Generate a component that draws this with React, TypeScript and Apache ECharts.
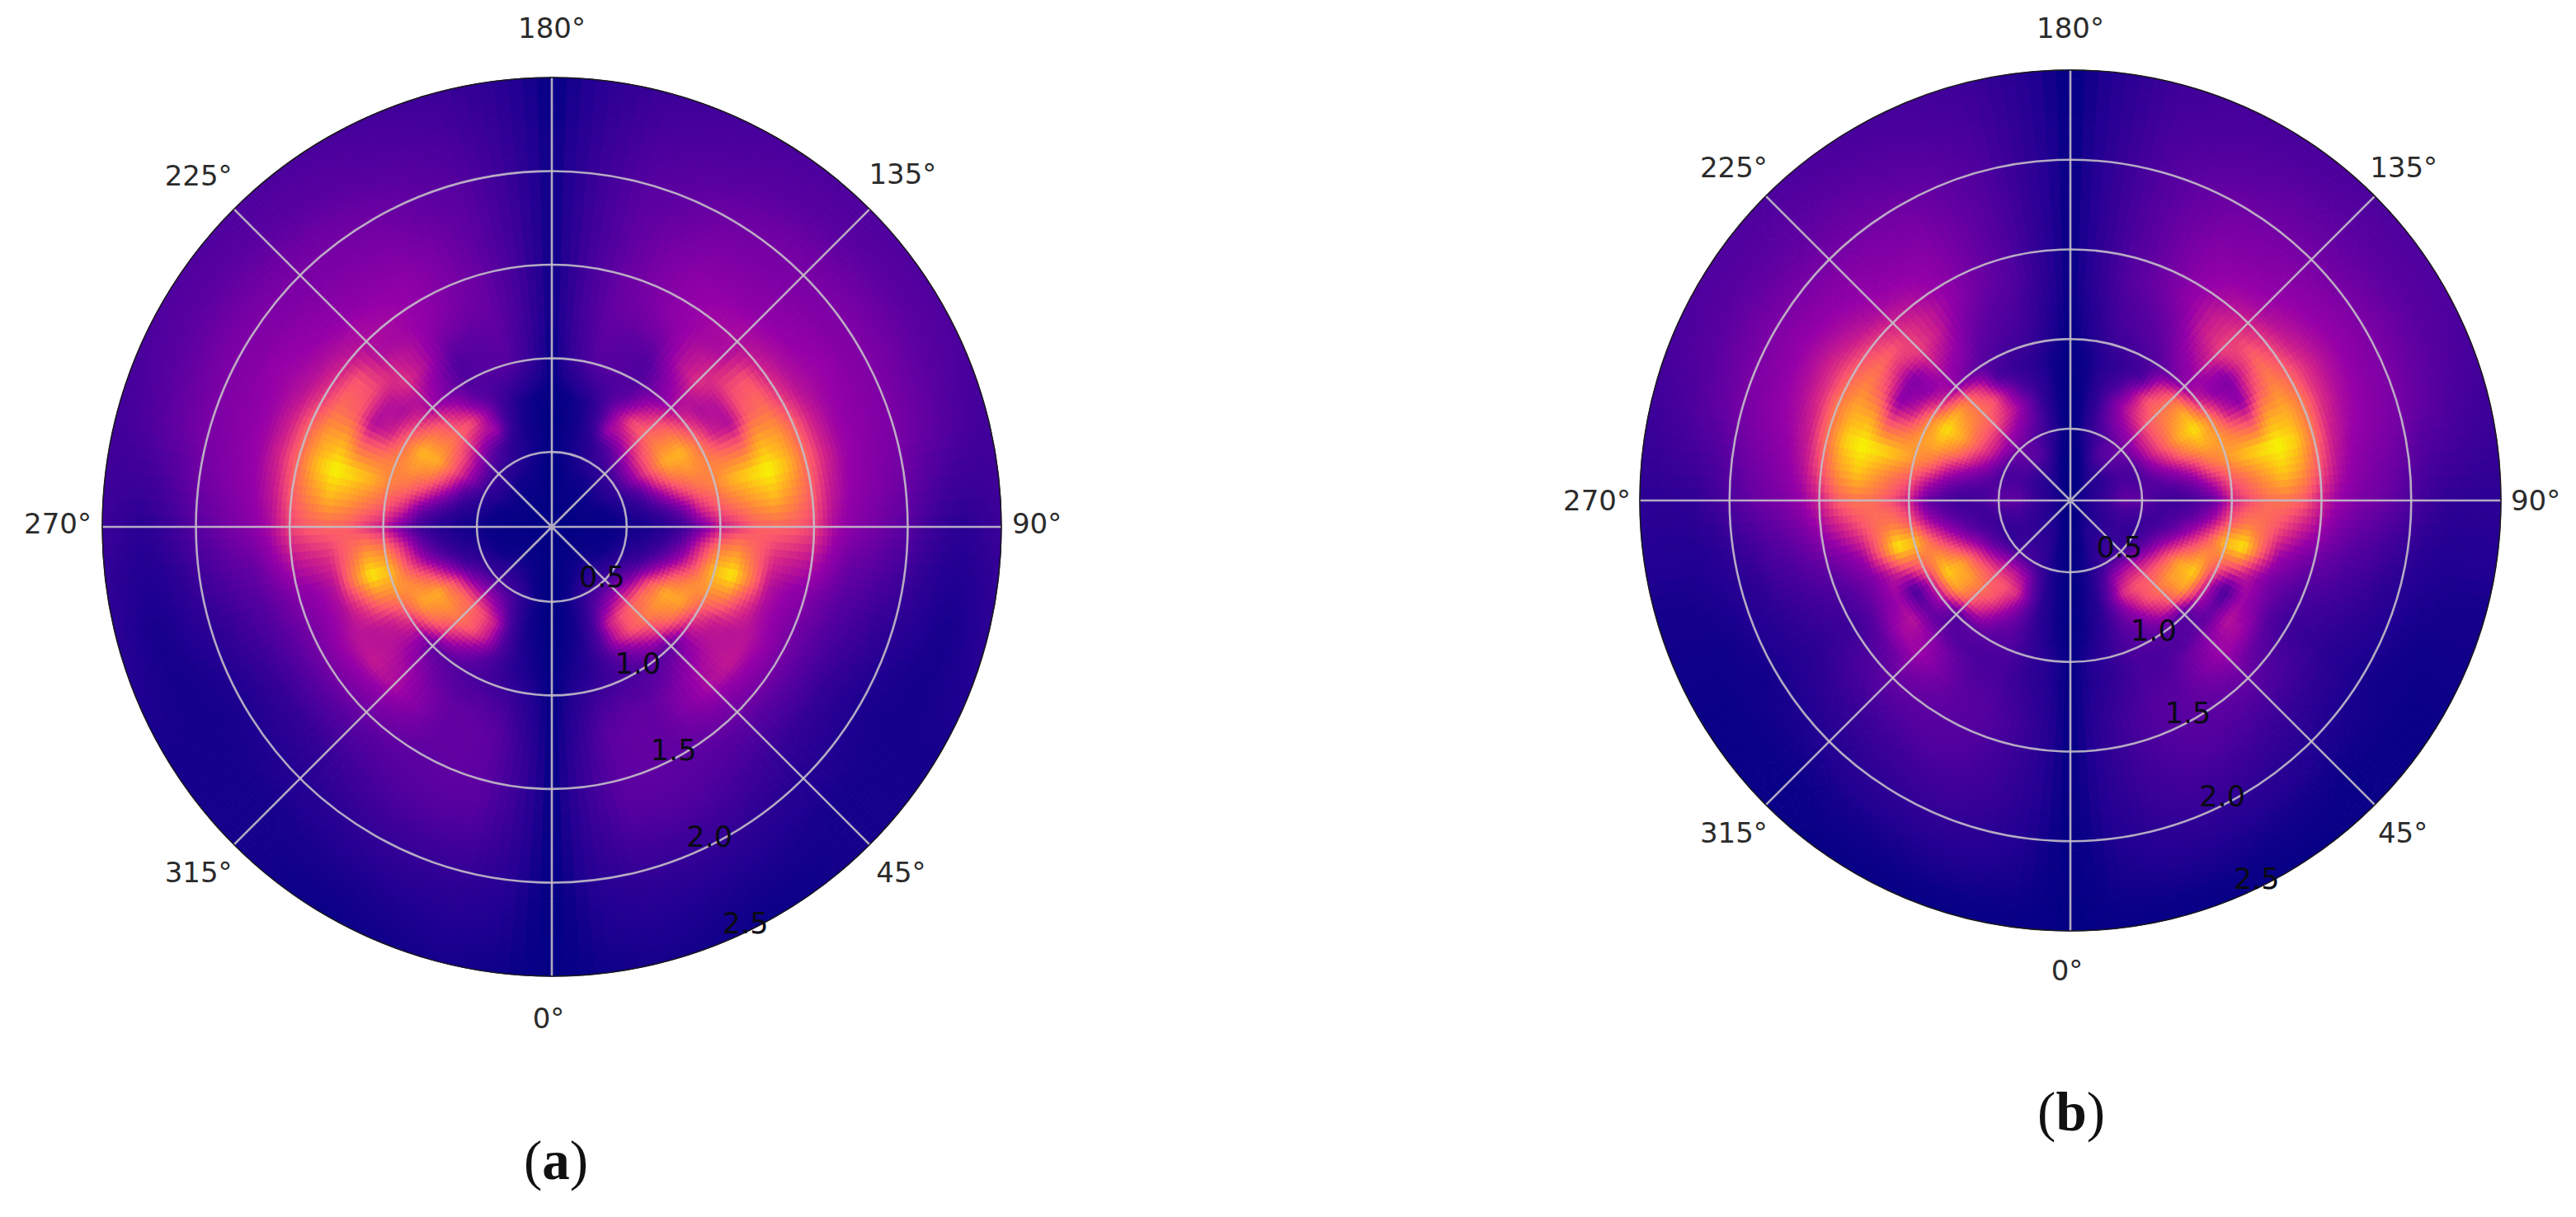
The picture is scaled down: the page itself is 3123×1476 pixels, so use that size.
import React, { useEffect, useRef } from "react";
import * as echarts from "echarts";

// Radial sample positions (value of the radius axis) and polar angles (deg) of the right half.
const radii = [0.1,0.2,0.3,0.4,0.5,0.6,0.7,0.8,0.9,1.0,1.1,1.2,1.3,1.4,1.5,1.6,1.7,1.8,1.9,2.0,2.1,2.2,2.3,2.4,2.5];
const thetas = [0,7.5,15,22.5,30,37.5,45,52.5,60,67.5,75,82.5,90,97.5,105,112.5,120,127.5,135,142.5,150,157.5,165,172.5,180];

// Intensity (0-100); rows = radii, columns = thetas. The figure is mirror-symmetric about the vertical.
const panelA = [
[0,0,0,1,1,1,1,1,1,1,1,1,1,1,1,1,1,1,1,1,1,1,1,0,0],
[0,1,1,1,1,1,1,1,1,1,1,1,1,1,1,1,1,1,1,1,1,1,1,1,0],
[0,1,1,2,2,2,2,2,2,2,2,2,2,2,2,2,2,2,2,2,2,2,2,1,0],
[0,1,2,4,6,7,7,6,4,3,3,2,2,2,3,4,6,6,6,4,4,4,3,1,0],
[0,2,5,10,15,18,18,15,12,9,6,5,4,5,7,10,14,15,14,12,10,7,5,3,0],
[0,2,5,14,28,38,42,38,30,18,11,7,5,8,15,25,38,38,32,24,16,9,5,3,0],
[0,3,6,20,48,60,66,68,62,42,24,14,8,17,34,52,62,60,52,44,42,16,5,3,0],
[0,4,8,22,46,62,70,78,84,64,42,28,16,30,54,72,84,74,66,60,40,18,7,3,1],
[1,5,9,18,28,40,54,70,82,76,62,52,32,52,68,78,86,72,58,44,26,20,16,8,2],
[1,8,14,18,20,24,26,46,62,78,88,72,48,64,74,74,68,56,42,32,22,24,24,14,2],
[1,10,19,23,24,28,36,44,50,72,98,78,56,72,86,70,50,44,46,36,22,24,26,16,2],
[1,12,24,27,28,34,42,46,46,56,72,66,64,80,94,68,44,46,54,44,28,26,27,17,3],
[1,14,26,28,28,36,44,48,46,44,46,54,66,86,100,84,64,60,50,44,34,30,28,18,3],
[1,15,26,28,28,32,36,38,40,38,40,50,64,76,88,80,68,62,44,42,38,32,28,18,3],
[1,16,26,27,26,28,30,32,32,32,36,46,58,64,68,66,56,50,44,42,38,33,28,18,3],
[1,15,25,26,25,24,24,25,26,27,30,38,44,48,52,50,46,44,42,40,38,33,27,18,3],
[1,14,23,24,23,21,19,19,19,21,24,29,37,40,42,42,42,40,38,37,36,32,26,17,3],
[1,13,20,21,20,17,14,13,13,16,20,26,33,36,38,38,40,38,36,35,34,30,26,17,3],
[1,11,17,17,16,14,11,10,9,12,15,22,29,33,35,36,36,35,34,33,32,28,25,16,3],
[1,10,14,14,13,10,8,7,6,8,12,17,25,30,33,34,35,34,33,32,30,27,24,16,3],
[1,8,11,11,10,8,7,6,5,6,9,12,18,25,30,31,32,32,31,30,28,25,22,15,3],
[1,7,9,8,7,6,5,5,5,5,6,8,13,20,27,28,29,29,28,27,25,23,21,14,3],
[1,6,7,6,5,5,5,5,5,5,5,7,10,17,23,25,26,26,25,24,23,21,19,13,2],
[1,5,6,5,4,4,5,5,5,6,7,9,13,16,20,22,24,24,23,23,22,20,18,12,2],
[1,4,5,4,3,4,5,5,5,7,10,13,16,17,18,20,22,22,22,21,20,18,16,11,2],
];

const panelB = [
[0,0,1,1,1,1,2,2,2,2,2,2,2,2,2,2,2,1,1,1,1,1,0,0,0],
[0,1,1,2,3,4,5,5,6,6,7,8,8,8,7,6,6,5,5,4,3,2,1,1,0],
[0,1,3,6,8,8,8,10,10,12,13,14,14,14,14,12,11,11,10,10,9,5,3,1,0],
[0,2,4,9,12,13,12,14,14,16,18,22,28,26,22,20,20,22,24,24,22,14,6,2,0],
[0,3,6,12,17,20,18,14,12,13,15,20,26,24,20,20,24,28,30,28,24,18,12,4,0],
[0,3,8,22,40,46,45,38,30,24,18,17,18,21,28,38,46,48,44,40,34,26,13,4,0],
[0,4,9,30,54,62,62,62,56,42,28,21,16,24,38,54,64,64,62,54,44,30,13,4,0],
[0,4,11,26,42,60,70,80,82,62,44,28,20,32,50,72,84,76,70,62,40,20,12,4,1],
[1,5,13,24,30,46,62,82,92,78,62,42,28,46,68,84,96,84,68,50,20,14,10,4,1],
[1,8,14,22,24,26,22,44,50,68,88,62,50,62,78,80,74,52,38,28,22,18,15,7,1],
[1,8,13,20,20,22,26,28,20,58,98,72,60,70,88,70,48,38,42,36,26,22,18,9,1],
[1,9,15,21,22,30,38,46,42,44,66,68,68,80,95,64,38,34,50,42,30,24,20,10,2],
[1,10,17,23,25,33,42,42,34,32,42,58,70,90,100,84,62,52,58,48,34,27,22,12,2],
[1,11,19,24,26,30,34,28,22,26,34,48,64,80,92,84,74,66,56,48,38,30,24,13,2],
[1,11,18,23,25,27,28,22,16,20,28,40,50,62,70,72,66,58,50,44,38,30,24,13,2],
[1,10,17,22,24,24,23,20,14,18,25,32,40,46,50,54,54,48,43,41,37,30,23,13,2],
[1,10,16,20,22,20,18,16,12,15,20,27,34,38,42,45,46,43,40,38,36,30,23,13,2],
[1,9,15,18,18,16,14,12,9,12,17,23,31,34,38,40,41,39,37,35,34,29,23,13,2],
[1,8,13,16,15,13,11,9,7,9,12,18,27,31,35,36,37,36,35,34,32,28,22,13,2],
[1,7,11,13,12,10,8,6,5,7,9,14,21,27,32,34,34,33,32,31,30,27,22,13,2],
[1,6,9,10,9,8,6,5,4,5,7,10,16,22,28,30,31,30,29,29,27,25,21,12,2],
[1,5,7,7,6,5,4,4,4,4,6,8,12,19,25,27,28,27,27,27,25,23,20,12,2],
[1,4,5,5,4,4,3,3,3,4,5,8,11,17,21,24,25,25,25,24,23,21,19,11,1],
[1,3,3,3,3,3,3,3,3,4,5,8,11,15,19,22,23,23,23,22,21,20,18,11,1],
[1,2,2,2,2,2,3,3,3,4,5,8,11,14,17,20,22,22,21,21,20,19,17,10,1],
];

const angleTicks = [0,45,90,135,180,225,270,315];
const angleLabels = ["0°","45°","90°","135°","180°","225°","270°","315°"];
const radialTicks = [0.5,1.0,1.5,2.0,2.5];
const radialRings = [0.5,1.0,1.5,2.0];
const radialLabelAngle = 22.5;

const colorStops: [number, number[]][] = [
  [0, [0,0,130]],
  [0.03, [10,0,135]],
  [0.07, [32,0,145]],
  [0.13, [50,0,150]],
  [0.25, [88,0,160]],
  [0.4, [150,0,168]],
  [0.5, [205,30,140]],
  [0.62, [250,85,110]],
  [0.75, [255,135,60]],
  [0.88, [255,190,25]],
  [1, [245,250,0]],
];

function colorOf(v: number) {
  const t = Math.max(0, Math.min(1, v / 100));
  for (let i = 1; i < colorStops.length; i++) {
    const [b, cb] = colorStops[i];
    if (t <= b) {
      const [a, ca] = colorStops[i - 1];
      const f = (t - a) / (b - a);
      return `rgb(${cb.map((c, k) => Math.round(ca[k] + (c - ca[k]) * f)).join(",")})`;
    }
  }
  return "rgb(245,250,0)";
}

const SUB = 4;

function heatCells(table: number[][]) {
  const out: number[][] = [];
  for (let i = 0; i < radii.length - 1; i++) {
    for (let j = 0; j < thetas.length - 1; j++) {
      const v = [table[i][j], table[i][j + 1], table[i + 1][j], table[i + 1][j + 1]];
      out.push([radii[i], thetas[j], radii[i + 1], thetas[j + 1], ...v]);
      out.push([radii[i], 360 - thetas[j], radii[i + 1], 360 - thetas[j + 1], ...v]);
    }
  }
  return out;
}

function renderCell(_: any, api: any) {
  const r0 = api.value(0), a0 = api.value(1), r1 = api.value(2), a1 = api.value(3);
  const v00 = api.value(4), v01 = api.value(5), v10 = api.value(6), v11 = api.value(7);
  const children: any[] = [];
  for (let p = 0; p < SUB; p++) {
    for (let q = 0; q < SUB; q++) {
      const u0 = p / SUB, u1 = (p + 1) / SUB, w0 = q / SUB, w1 = (q + 1) / SUB;
      const ra = r0 + (r1 - r0) * u0, rb = r0 + (r1 - r0) * u1;
      const ta = a0 + (a1 - a0) * w0, tb = a0 + (a1 - a0) * w1;
      const um = (u0 + u1) / 2, wm = (w0 + w1) / 2;
      // bilinear shading inside one measured cell (same as a gouraud-shaded mesh)
      const val = (v00 * (1 - wm) + v01 * wm) * (1 - um) + (v10 * (1 - wm) + v11 * wm) * um;
      const col = colorOf(val);
      children.push({
        type: "polygon",
        shape: { points: [api.coord([ra, ta]), api.coord([ra, tb]), api.coord([rb, tb]), api.coord([rb, ta])] },
        style: { fill: col, stroke: col, lineWidth: 1 },
        silent: true,
      });
    }
  }
  return { type: "group", children };
}

const angleOffsets = [
  [[-4,51],[38,34],[43,-4],[40,-43],[0,-60],[-43,-41],[-54,-4],[-43,34]],
  [[-4,48],[34,34],[42,0],[35,-35],[0,-51],[-39,-35],[-52,0],[-39,34]],
];

function angleLabelSeries(polarIndex: number) {
  return {
    type: "custom",
    coordinateSystem: "polar",
    polarIndex,
    z: 20,
    silent: true,
    data: angleTicks.map((t, i) => [2.5, t, i]),
    renderItem: (_: any, api: any) => {
      const i = api.value(2);
      const p = api.coord([api.value(0), api.value(1)]);
      const off = angleOffsets[polarIndex][i];
      return {
        type: "text",
        x: p[0] + off[0],
        y: p[1] + off[1],
        style: { text: angleLabels[i], fill: "#2b2b2b", font: "34px 'DejaVu Sans'", textAlign: "center", textVerticalAlign: "middle" },
      };
    },
  };
}

function radialLabelSeries(polarIndex: number) {
  return {
    type: "custom",
    coordinateSystem: "polar",
    polarIndex,
    z: 20,
    silent: true,
    data: radialTicks.map((r) => [r, radialLabelAngle]),
    renderItem: (_: any, api: any) => {
      const p = api.coord([api.value(0), api.value(1)]);
      return {
        type: "text",
        x: p[0] + 26,
        y: p[1] - 23,
        style: { text: api.value(0).toFixed(1), fill: "#0a0a14", font: "35px 'DejaVu Sans'", textAlign: "center", textVerticalAlign: "middle" },
      };
    },
  };
}

const gridStyle = { color: "rgba(196,190,200,0.9)", width: 2.6 };

function axes(polarIndex: number) {
  return {
    angle: {
      polarIndex, type: "value" as const, min: 0, max: 360, interval: 45, startAngle: 270, clockwise: false, z: 10,
      axisLine: { show: true, lineStyle: { color: "#1a1a1a", width: 1.5 } },
      axisTick: { show: false }, axisLabel: { show: false },
      splitLine: { show: true, lineStyle: gridStyle },
    },
    radius: {
      polarIndex, type: "value" as const, min: 0.1, max: 2.5, z: 10,
      axisLine: { show: false },
      axisTick: { show: false, customValues: radialRings },
      axisLabel: { show: false },
      splitLine: { show: true, lineStyle: gridStyle },
    },
  };
}

const captionStyle = {
  fontFamily: "'Liberation Serif'", fontSize: 67, fontWeight: "normal" as const, color: "#111",
  rich: { b: { fontFamily: "'Liberation Serif'", fontSize: 67, fontWeight: "bold" as const, color: "#111" } },
};

export default function App() {
  const ref = useRef<HTMLDivElement>(null);
  useEffect(() => {
    const chart = echarts.init(ref.current!, undefined, { renderer: "svg" });
    const a0 = axes(0), a1 = axes(1);
    chart.setOption({
      animation: false,
      backgroundColor: "#ffffff",
      polar: [
        { center: [669, 639], radius: [0, 545] },
        { center: [2510, 607], radius: [0, 522] },
      ],
      angleAxis: [a0.angle, a1.angle],
      radiusAxis: [a0.radius, a1.radius],
      title: [
        { text: "({b|a})", left: 669, top: 1402, textAlign: "center", textVerticalAlign: "middle", textStyle: captionStyle },
        { text: "({b|b})", left: 2506, top: 1343, textAlign: "center", textVerticalAlign: "middle", textStyle: captionStyle },
      ],
      series: [
        { type: "custom", coordinateSystem: "polar", polarIndex: 0, silent: true, progressive: 0, z: 1, data: heatCells(panelA), renderItem: renderCell },
        { type: "custom", coordinateSystem: "polar", polarIndex: 1, silent: true, progressive: 0, z: 1, data: heatCells(panelB), renderItem: renderCell },
        angleLabelSeries(0), angleLabelSeries(1), radialLabelSeries(0), radialLabelSeries(1),
      ],
    });
    return () => chart.dispose();
  }, []);
  return <div ref={ref} style={{ position: "absolute", left: 0, top: 0, width: 3123, height: 1476 }} />;
}
